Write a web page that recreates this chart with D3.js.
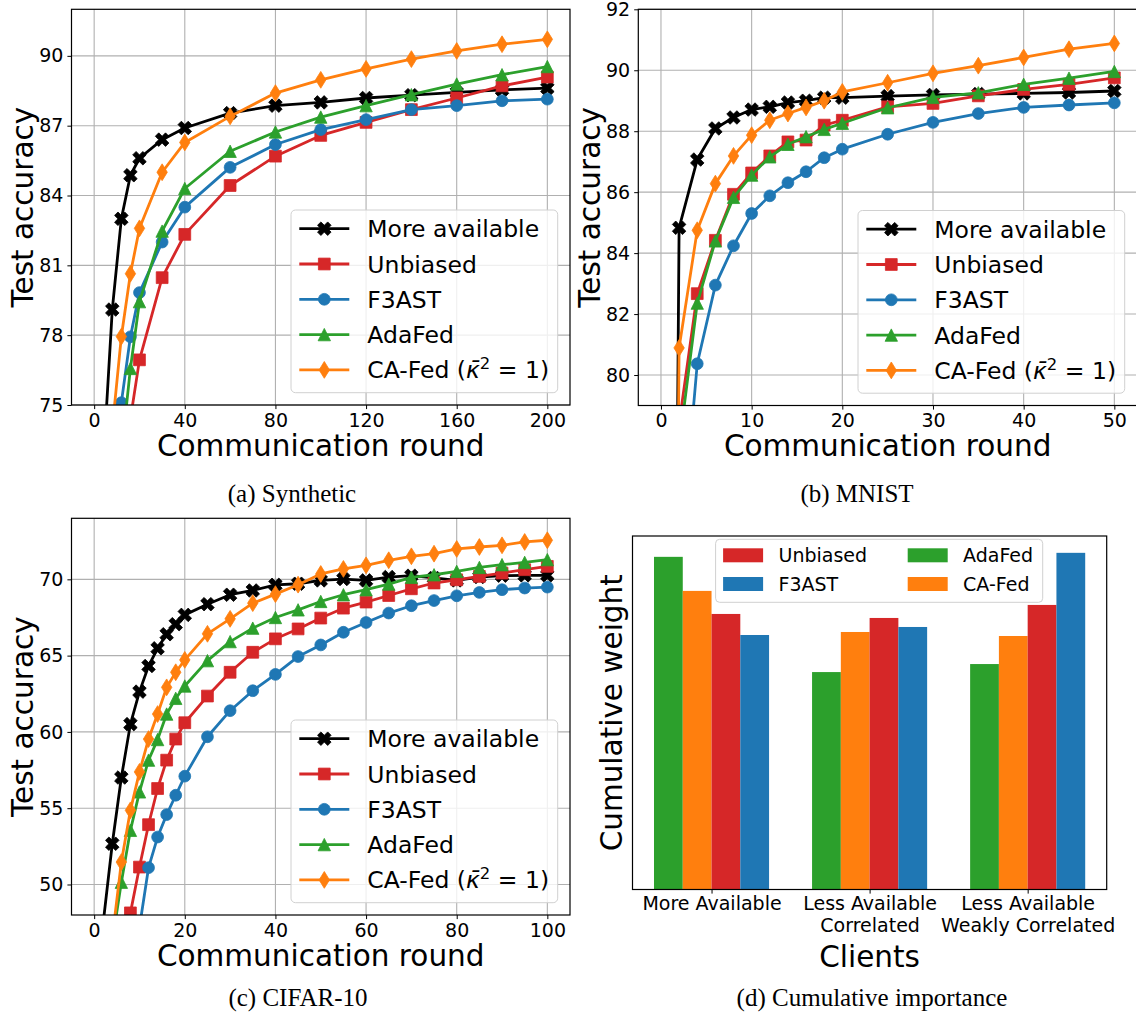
<!DOCTYPE html>
<html>
<head>
<meta charset="utf-8">
<script src="https://cdn.jsdelivr.net/npm/d3@7"></script>
<style>
  body { margin: 0; background: #ffffff; }
  svg { display: block; }
</style>
</head>
<body>
<svg id="fig" width="1136" height="1021"></svg>
<script>
// ---------------- data ----------------
const methodNames = ["More available", "Unbiased", "F3AST", "AdaFed", "CA-Fed"];

// (a) Synthetic
const synthRounds = [0, 4, 8, 12, 16, 20, 30, 40, 60, 80, 100, 120, 140, 160, 180, 200];
const synthMoreAvailable = [50, 72.5, 79.1, 83.0, 84.87, 85.6, 86.4, 86.9, 87.54, 87.86, 88.0, 88.19, 88.31, 88.43, 88.54, 88.61];
const synthUnbiased      = [50, 64.0, 68.0, 71.5, 74.4, 76.94, 80.47, 82.33, 84.43, 85.69, 86.58, 87.14, 87.69, 88.19, 88.71, 89.09];
const synthF3AST         = [50, 66.0, 71.0, 75.1, 77.93, 79.83, 82.0, 83.5, 85.21, 86.19, 86.83, 87.26, 87.69, 87.86, 88.07, 88.14];
const synthAdaFed        = [50, 66.0, 69.5, 72.9, 76.57, 79.44, 82.47, 84.3, 85.9, 86.73, 87.37, 87.86, 88.33, 88.79, 89.19, 89.54];
const synthCAFed         = [50, 70.0, 74.0, 77.94, 80.64, 82.59, 85.0, 86.28, 87.4, 88.4, 88.97, 89.44, 89.86, 90.21, 90.5, 90.71];
const synthXTicks = [0, 40, 80, 120, 160, 200];
const synthYTicks = [75, 78, 81, 84, 87, 90];

// (b) MNIST
const mnistRounds = [0, 2, 4, 6, 8, 10, 12, 14, 16, 18, 20, 25, 30, 35, 40, 45, 50];
const mnistMoreAvailable = [10, 84.83, 87.07, 88.09, 88.45, 88.71, 88.80, 88.94, 89.0, 89.1, 89.1, 89.15, 89.19, 89.22, 89.24, 89.27, 89.32];
const mnistUnbiased      = [10, 78.4, 82.67, 84.42, 85.93, 86.63, 87.19, 87.65, 87.71, 88.2, 88.36, 88.8, 88.91, 89.16, 89.37, 89.54, 89.75];
const mnistF3AST         = [10, 73.5, 80.37, 82.95, 84.24, 85.3, 85.88, 86.31, 86.67, 87.13, 87.41, 87.9, 88.29, 88.58, 88.78, 88.86, 88.93];
const mnistAdaFed        = [10, 77.66, 82.36, 84.4, 85.83, 86.56, 87.16, 87.57, 87.82, 88.06, 88.26, 88.77, 89.11, 89.26, 89.54, 89.74, 89.96];
const mnistCAFed         = [10, 80.89, 84.75, 86.28, 87.19, 87.87, 88.36, 88.58, 88.78, 89.0, 89.29, 89.59, 89.9, 90.15, 90.42, 90.69, 90.88];
const mnistXTicks = [0, 10, 20, 30, 40, 50];
const mnistYTicks = [80, 82, 84, 86, 88, 90, 92];

// (c) CIFAR-10
const cifarRounds = [0, 2, 4, 6, 8, 10, 12, 14, 16, 18, 20, 25, 30, 35, 40, 45, 50, 55, 60, 65, 70, 75, 80, 85, 90, 95, 100];
const cifarMoreAvailable = [10, 47.5, 52.67, 57.01, 60.51, 62.64, 64.32, 65.48, 66.4, 67.06, 67.67, 68.37, 68.99, 69.27, 69.64, 69.71, 69.93, 70.02, 69.93, 70.15, 70.24, 70.09, 69.93, 70.15, 70.24, 70.26, 70.26];
const cifarUnbiased      = [10, 30, 38, 44, 48.14, 51.14, 53.92, 56.29, 58.15, 59.53, 60.6, 62.35, 63.91, 65.22, 66.1, 66.75, 67.46, 68.11, 68.51, 68.94, 69.38, 69.76, 69.97, 70.19, 70.41, 70.63, 70.85];
const cifarF3AST         = [10, 25, 33, 39, 44, 47.2, 51.1, 53.11, 54.58, 55.85, 57.1, 59.68, 61.39, 62.7, 63.77, 64.94, 65.7, 66.53, 67.17, 67.79, 68.27, 68.61, 68.92, 69.14, 69.32, 69.43, 69.49];
const cifarAdaFed        = [10, 36, 46.25, 50.15, 53.55, 56.07, 58.15, 59.5, 61.17, 62.2, 63.01, 64.67, 65.92, 66.8, 67.5, 68.0, 68.55, 68.99, 69.32, 69.69, 70.13, 70.3, 70.52, 70.78, 70.96, 71.11, 71.29];
const cifarCAFed         = [10, 38, 46.5, 51.47, 54.86, 57.38, 59.53, 61.17, 62.92, 63.91, 64.72, 66.43, 67.41, 68.44, 69.03, 69.65, 70.35, 70.68, 70.92, 71.25, 71.51, 71.68, 71.99, 72.12, 72.23, 72.45, 72.56];
const cifarXTicks = [0, 20, 40, 60, 80, 100];
const cifarYTicks = [50, 55, 60, 65, 70];

// (d) Cumulative importance
const clientGroups = [["More Available"], ["Less Available", "Correlated"], ["Less Available", "Weakly Correlated"]];
const barMethods = ["AdaFed", "CA-Fed", "Unbiased", "F3AST"];
const weightAdaFed   = [9.96, 6.51, 6.75];
const weightCAFed    = [8.94, 7.71, 7.59];
const weightUnbiased = [8.25, 8.13, 8.52];
const weightF3AST    = [7.62, 7.86, 10.08];
const barLegendOrder = ["Unbiased", "F3AST", "AdaFed", "CA-Fed"];

// ---------------- styles ----------------
const methodColor = {
  "More available": "#000000", "Unbiased": "#d62728", "F3AST": "#1f77b4",
  "AdaFed": "#2ca02c", "CA-Fed": "#ff7f0e"
};
const methodMarker = {
  "More available": "xfilled", "Unbiased": "square", "F3AST": "circle",
  "AdaFed": "triangle", "CA-Fed": "thindiamond"
};
const FONT = "DejaVu Sans";
const TICK_FS = 19, LABEL_FS = 29.5, LEGEND_FS = 23.5, BAR_LEGEND_FS = 19, CAPTION_FS = 25;
const TICK_LEN = 4.1, TICK_PAD = 4.1;

const svg = d3.select("#fig");
svg.append("rect").attr("width", 1136).attr("height", 1021).attr("fill", "#fff");

function markerD(kind) {
  const fmt = pts => "M" + pts.map(p => p[0].toFixed(2) + "," + p[1].toFixed(2)).join("L") + "Z";
  if (kind === "square") { const h = 5.9; return fmt([[-h,-h],[h,-h],[h,h],[-h,h]]); }
  if (kind === "triangle") { const h = 6.2; return fmt([[0,-h],[h,h],[-h,h]]); }
  if (kind === "thindiamond") { const a = 8.4, b = 5.2; return fmt([[0,-a],[b,0],[0,a],[-b,0]]); }
  if (kind === "xfilled") {
    const h = 7.2, w = 2.4, c = Math.SQRT1_2;
    const pts = [[-w,-h],[w,-h],[w,-w],[h,-w],[h,w],[w,w],[w,h],[-w,h],[-w,w],[-h,w],[-h,-w],[-w,-w]]
      .map(([x, y]) => [x * c - y * c, x * c + y * c]);
    return fmt(pts);
  }
  // circle
  const r = 5.9;
  return `M${-r},0A${r},${r} 0 1,0 ${r},0A${r},${r} 0 1,0 ${-r},0Z`;
}

function addMarker(g, kind, color, cx, cy) {
  g.append("path").attr("d", markerD(kind))
    .attr("transform", `translate(${cx},${cy})`)
    .attr("fill", color).attr("stroke", color).attr("stroke-width", 0.8);
}

function legendLabel(textSel, name) {
  if (name !== "CA-Fed") { textSel.text(name); return; }
  textSel.append("tspan").text("CA-Fed (");
  textSel.append("tspan").attr("font-style", "italic").text("\u03BA\u0304");
  textSel.append("tspan").attr("font-size", LEGEND_FS * 0.7).attr("dy", -9).text("2");
  textSel.append("tspan").attr("dy", 9).text(" = 1)");
}

function styleAxis(sel) {
  sel.attr("font-family", FONT).attr("font-size", TICK_FS);
  sel.select(".domain").remove();
  sel.selectAll(".tick line").attr("stroke", "#000").attr("stroke-width", 1);
  sel.selectAll(".tick text").attr("fill", "#000");
}

function linePanel(p) {
  const g = svg.append("g");
  const x = d3.scaleLinear().domain(p.xDomain).range([p.left, p.right]);
  const y = d3.scaleLinear().domain(p.yDomain).range([p.bottom, p.top]);

  const clipId = "clip-" + p.id;
  svg.append("clipPath").attr("id", clipId).append("rect")
    .attr("x", p.left).attr("y", p.top).attr("width", p.right - p.left).attr("height", p.bottom - p.top);

  // grid
  const grid = g.append("g").attr("stroke", "#b0b0b0").attr("stroke-width", 1.1);
  grid.selectAll(".gx").data(p.xTicks).join("line")
    .attr("x1", d => x(d)).attr("x2", d => x(d)).attr("y1", p.top).attr("y2", p.bottom);
  grid.selectAll(".gy").data(p.yTicks).join("line")
    .attr("x1", p.left).attr("x2", p.right).attr("y1", d => y(d)).attr("y2", d => y(d));

  // series
  const plot = g.append("g").attr("clip-path", `url(#${clipId})`);
  const line = d3.line().x(d => x(d[0])).y(d => y(d[1]));
  p.series.forEach(s => {
    const pts = p.rounds.map((r, i) => [r, s.values[i]]);
    const col = methodColor[s.name];
    plot.append("path").datum(pts).attr("d", line)
      .attr("fill", "none").attr("stroke", col).attr("stroke-width", 2.8).attr("stroke-linejoin", "round");
    const mg = plot.append("g");
    pts.forEach(pt => addMarker(mg, methodMarker[s.name], col, x(pt[0]), y(pt[1])));
  });

  // axes
  g.append("g").attr("transform", `translate(0,${p.bottom})`)
    .call(d3.axisBottom(x).tickValues(p.xTicks).tickSize(TICK_LEN).tickPadding(TICK_PAD).tickFormat(d3.format("d")))
    .call(styleAxis);
  g.append("g").attr("transform", `translate(${p.left},0)`)
    .call(d3.axisLeft(y).tickValues(p.yTicks).tickSize(TICK_LEN).tickPadding(TICK_PAD).tickFormat(d3.format("d")))
    .call(styleAxis);

  // frame
  g.append("rect").attr("x", p.left).attr("y", p.top)
    .attr("width", p.right - p.left).attr("height", p.bottom - p.top)
    .attr("fill", "none").attr("stroke", "#000").attr("stroke-width", 1.2);

  // legend (lower right)
  const bw = 266.7, bh = 182.7;
  const bx = p.right - 12.3 - bw, by = p.bottom - 12.3 - bh;
  const lg = g.append("g");
  lg.append("rect").attr("x", bx).attr("y", by).attr("width", bw).attr("height", bh).attr("rx", 4.5)
    .attr("fill", "#fff").attr("fill-opacity", 0.8).attr("stroke", "#d0d0d0").attr("stroke-width", 1);
  p.series.forEach((s, i) => {
    const cy = by + 18.7 + i * 35.3;
    const col = methodColor[s.name];
    lg.append("line").attr("x1", bx + 8.3).attr("x2", bx + 58.3).attr("y1", cy).attr("y2", cy)
      .attr("stroke", col).attr("stroke-width", 2.8);
    addMarker(lg, methodMarker[s.name], col, bx + 33.3, cy);
    const t = lg.append("text").attr("x", bx + 76.3).attr("y", cy + 8.5)
      .attr("font-family", FONT).attr("font-size", LEGEND_FS).attr("fill", "#000");
    legendLabel(t, s.name);
  });

  // axis labels
  g.append("text").attr("x", (p.left + p.right) / 2).attr("y", p.bottom + 50.5)
    .attr("text-anchor", "middle").attr("font-family", FONT).attr("font-size", LABEL_FS)
    .text("Communication round");
  g.append("text").attr("transform", `translate(${p.yLabelX},${(p.top + p.bottom) / 2}) rotate(-90)`)
    .attr("text-anchor", "middle").attr("font-family", FONT).attr("font-size", LABEL_FS)
    .text("Test accuracy");
}

function seriesOf(vals) {
  return methodNames.map((n, i) => ({ name: n, values: vals[i] }));
}

linePanel({
  id: "a", left: 71.5, right: 570, top: 9.3, bottom: 405, yLabelX: 33,
  xDomain: [-10, 210], yDomain: [75, 92], xTicks: synthXTicks, yTicks: synthYTicks,
  rounds: synthRounds,
  series: seriesOf([synthMoreAvailable, synthUnbiased, synthF3AST, synthAdaFed, synthCAFed])
});
linePanel({
  id: "b", left: 638.3, right: 1137, top: 9.3, bottom: 405.5, yLabelX: 600,
  xDomain: [-2.5, 52.5], yDomain: [79, 92], xTicks: mnistXTicks, yTicks: mnistYTicks,
  rounds: mnistRounds,
  series: seriesOf([mnistMoreAvailable, mnistUnbiased, mnistF3AST, mnistAdaFed, mnistCAFed])
});
linePanel({
  id: "c", left: 71.5, right: 570, top: 518.3, bottom: 915, yLabelX: 33,
  xDomain: [-5, 105], yDomain: [48, 74], xTicks: cifarXTicks, yTicks: cifarYTicks,
  rounds: cifarRounds,
  series: seriesOf([cifarMoreAvailable, cifarUnbiased, cifarF3AST, cifarAdaFed, cifarCAFed])
});

// ---------------- (d) bar chart ----------------
(function barPanel() {
  const left = 632.5, right = 1106.7, top = 536, bottom = 889.5;
  const weights = { "AdaFed": weightAdaFed, "CA-Fed": weightCAFed, "Unbiased": weightUnbiased, "F3AST": weightF3AST };
  const g = svg.append("g");
  const x = d3.scaleLinear().domain([-0.5, clientGroups.length - 0.5]).range([left, right]);
  const maxW = d3.max(barMethods, m => d3.max(weights[m]));
  const y = d3.scaleLinear().domain([0, maxW * 1.05]).range([bottom, top]);
  const bw = 0.182;

  barMethods.forEach((m, j) => {
    const off = (j - 1.5) * bw;
    g.append("g").selectAll("rect").data(weights[m]).join("rect")
      .attr("x", (d, i) => x(i + off - bw / 2))
      .attr("width", x(bw) - x(0))
      .attr("y", d => y(d))
      .attr("height", d => y(0) - y(d))
      .attr("fill", methodColor[m]);
  });

  const ax = g.append("g").attr("transform", `translate(0,${bottom})`)
    .call(d3.axisBottom(x).tickValues(d3.range(clientGroups.length)).tickSize(TICK_LEN).tickPadding(TICK_PAD).tickFormat(""))
    .call(styleAxis);
  ax.selectAll(".tick").each(function (d) {
    const t = d3.select(this).append("text").attr("fill", "#000").attr("text-anchor", "middle")
      .attr("font-family", FONT).attr("font-size", TICK_FS).attr("y", TICK_LEN + TICK_PAD + 12);
    clientGroups[d].forEach((ln, k) => t.append("tspan").attr("x", 0).attr("dy", k === 0 ? 0 : 22).text(ln));
  });

  g.append("rect").attr("x", left).attr("y", top).attr("width", right - left).attr("height", bottom - top)
    .attr("fill", "none").attr("stroke", "#000").attr("stroke-width", 1.2);

  // legend, two columns
  const lx = 715.6, ly = 539.3, lw = 327.1, lh = 63;
  const lg = g.append("g");
  lg.append("rect").attr("x", lx).attr("y", ly).attr("width", lw).attr("height", lh).attr("rx", 4)
    .attr("fill", "#fff").attr("fill-opacity", 0.8).attr("stroke", "#d0d0d0").attr("stroke-width", 1);
  barLegendOrder.forEach((m, i) => {
    const col = Math.floor(i / 2), row = i % 2;
    const hx = lx + 7.5 + col * 184.6, cy = ly + 16 + row * 28.7;
    lg.append("rect").attr("x", hx).attr("y", cy - 7).attr("width", 40).attr("height", 14).attr("fill", methodColor[m]);
    lg.append("text").attr("x", hx + 55.4).attr("y", cy + 7).attr("font-family", FONT)
      .attr("font-size", BAR_LEGEND_FS).attr("fill", "#000").text(m);
  });

  g.append("text").attr("x", (left + right) / 2).attr("y", 967).attr("text-anchor", "middle")
    .attr("font-family", FONT).attr("font-size", LABEL_FS).text("Clients");
  g.append("text").attr("transform", `translate(622,${(top + bottom) / 2}) rotate(-90)`)
    .attr("text-anchor", "middle").attr("font-family", FONT).attr("font-size", LABEL_FS).text("Cumulative weight");
})();

// ---------------- sub-captions ----------------
const captions = [
  { text: "(a) Synthetic", x: 292, y: 502 },
  { text: "(b) MNIST", x: 857, y: 502 },
  { text: "(c) CIFAR-10", x: 298, y: 1006 },
  { text: "(d) Cumulative importance", x: 872, y: 1006 }
];
svg.append("g").selectAll("text").data(captions).join("text")
  .attr("x", d => d.x).attr("y", d => d.y).attr("text-anchor", "middle")
  .attr("font-family", "Liberation Serif").attr("font-size", CAPTION_FS).attr("fill", "#000")
  .text(d => d.text);
</script>
</body>
</html>
